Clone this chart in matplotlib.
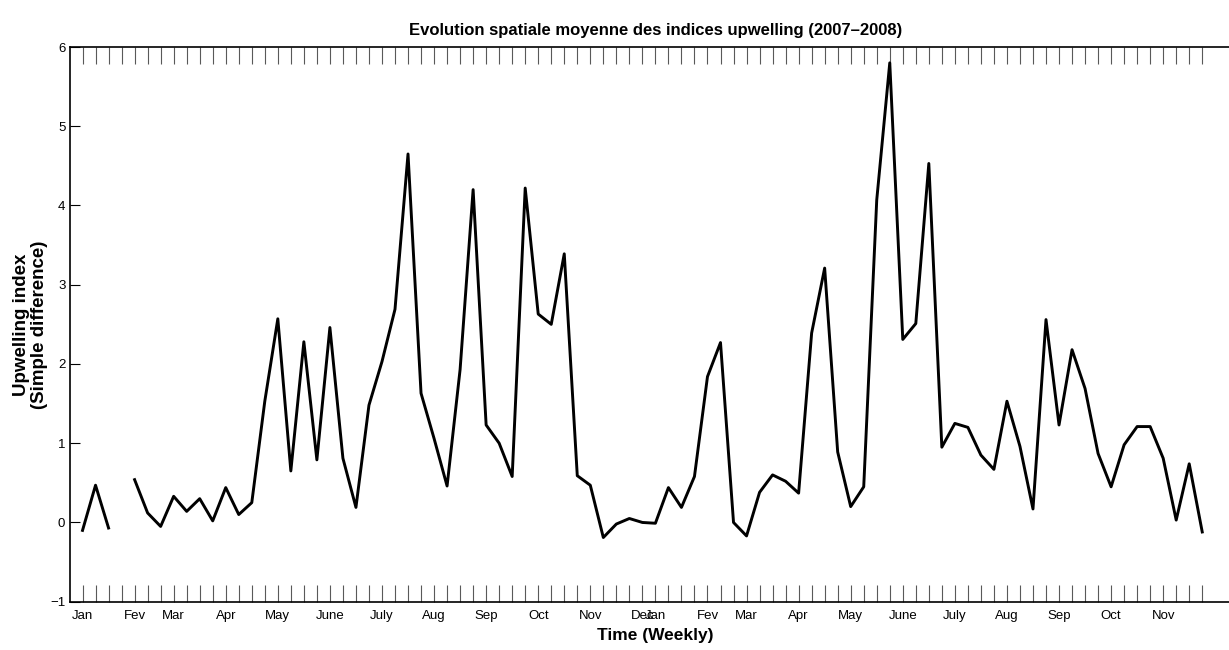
import numpy as np
import matplotlib
matplotlib.use("Agg")
import matplotlib.pyplot as plt

# weekly upwelling index, 2007-2008 (week 4 missing)
weeks = np.arange(1, 88)
upwelling = [
    -0.10, 0.47, -0.07, np.nan, 0.54, 0.12, -0.05, 0.33, 0.14, 0.30,
    0.02, 0.44, 0.10, 0.25, 1.53, 2.57, 0.65, 2.28, 0.79, 2.46,
    0.81, 0.19, 1.48, 2.03, 2.69, 4.65, 1.63, 1.06, 0.46, 1.93,
    4.20, 1.23, 1.00, 0.58, 4.22, 2.63, 2.50, 3.39, 0.59, 0.47,
    -0.19, -0.02, 0.05, 0.00, -0.01, 0.44, 0.19, 0.58, 1.84, 2.27,
    0.00, -0.17, 0.38, 0.60, 0.52, 0.37, 2.39, 3.21, 0.89, 0.20,
    0.45, 4.07, 5.80, 2.31, 2.51, 4.53, 0.95, 1.25, 1.20, 0.85,
    0.67, 1.53, 0.96, 0.17, 2.56, 1.23, 2.18, 1.69, 0.87, 0.45,
    0.98, 1.21, 1.21, 0.81, 0.03, 0.74, -0.12,
]

month_names = ["Jan", "Fev", "Mar", "Apr", "May", "June", "July", "Aug",
               "Sep", "Oct", "Nov", "Dec", "Jan", "Fev", "Mar", "Apr",
               "May", "June", "July", "Aug", "Sep", "Oct", "Nov"]
month_weeks = [1, 5, 8, 12, 16, 20, 24, 28, 32, 36, 40, 44, 45, 49, 52,
               56, 60, 64, 68, 72, 76, 80, 84]

narrow = ["Liberation Sans Narrow", "Liberation Sans", "DejaVu Sans"]
plt.rcParams["font.family"] = narrow

W, H = 1229, 650
fig = plt.figure(figsize=(W / 100, H / 100), dpi=100)
ax = fig.add_axes([69.5 / W, 48.3 / H, 90 * 13.02 / W, 554.7 / H])

ax.plot(weeks, upwelling, color="black", lw=2.1)

ax.set_xlim(0, 90)
ax.set_ylim(-1, 6)

labels = [""] * len(weeks)
for m, w in zip(month_names, month_weeks):
    labels[w - 1] = m
ax.set_xticks(weeks)
ax.set_xticklabels(labels, fontsize=9.5)
ax.set_yticks(range(-1, 7))
ax.tick_params(axis="y", direction="in", length=7.5, width=0.8, labelsize=9.5, pad=3)
ax.tick_params(axis="x", direction="in", length=12, width=0.8, color="0.35",
               top=True, labelsize=9.5, pad=6)

for s in ax.spines.values():
    s.set_linewidth(1.2)

ax.set_title("Evolution spatiale moyenne des indices upwelling (2007\u20132008)",
             fontsize=12, fontweight="bold", pad=9)
ax.set_xlabel("Time (Weekly)", fontsize=12.5, fontweight="bold", labelpad=4)
ax.set_ylabel("Upwelling index\n(Simple difference)", fontsize=13.5,
              fontweight="bold", family=["Liberation Sans", "DejaVu Sans"],
              linespacing=1.05, labelpad=1.5)

fig.savefig("out.png", dpi=100)
